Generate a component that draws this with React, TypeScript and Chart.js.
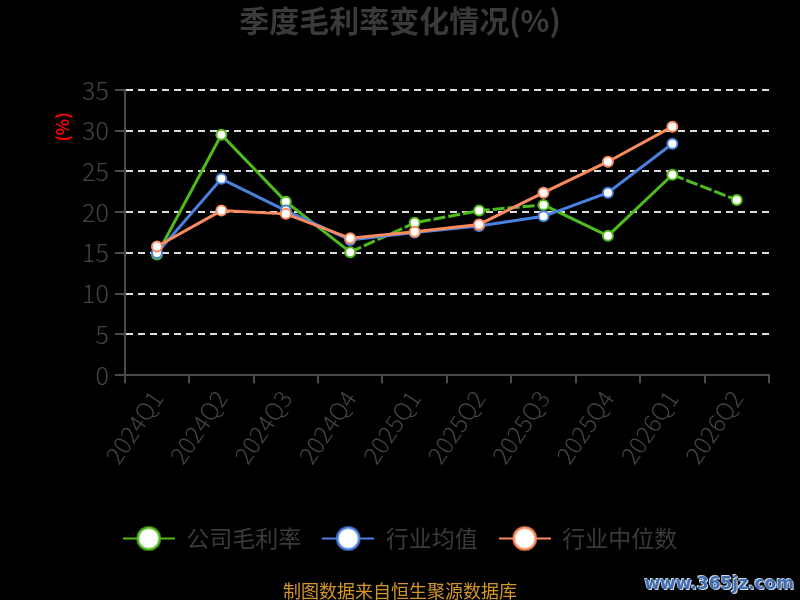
import { useEffect, useRef } from 'react';
import { Chart, registerables } from 'chart.js';

Chart.register(...registerables);

const quarters = ['2024Q1', '2024Q2', '2024Q3', '2024Q4', '2025Q1', '2025Q2', '2025Q3', '2025Q4', '2026Q1', '2026Q2'];
const companyMargin = [14.8, 29.5, 21.3, 15.1, 18.7, 20.2, 20.9, 17.1, 24.6, 21.5];
const industryAvg = [15.0, 24.1, 20.2, 16.6, 17.5, 18.3, 19.5, 22.4, 28.4, null];
const industryMedian = [15.8, 20.2, 19.8, 16.8, 17.6, 18.5, 22.4, 26.2, 30.5, null];
const seriesNames = ['公司毛利率', '行业均值', '行业中位数'];
// segments of the company line that show up dashed in the original
const dashedSegments = [3, 4, 5, 8];

const C = {
  green: '#4fbb1c',
  blue: '#4a80e0',
  orange: '#fa8b5e',
  axis: '#4a4a4a',
  text: '#444',
  grid: '#dcdcdc'
};

const FONT = "'Noto Sans CJK SC', 'Noto Sans', sans-serif";

function legendIcon(color: string) {
  const c = document.createElement('canvas');
  c.width = 52;
  c.height = 28;
  const g = c.getContext('2d')!;
  g.strokeStyle = color;
  g.lineWidth = 2;
  g.beginPath();
  g.moveTo(0, 14);
  g.lineTo(52, 14);
  g.stroke();
  g.beginPath();
  g.arc(26, 14, 11, 0, Math.PI * 2);
  g.fillStyle = '#fff';
  g.fill();
  g.lineWidth = 2.5;
  g.stroke();
  return c;
}

// "(%)" unit label, sits near the top of the y axis
const unitLabel = {
  id: 'unitLabel',
  afterDraw(chart: any) {
    const { ctx, chartArea } = chart;
    ctx.save();
    ctx.translate(chartArea.left - 62, chartArea.top + 37);
    ctx.rotate(-Math.PI / 2);
    ctx.fillStyle = '#ff0000';
    ctx.font = `bold 17px ${FONT}`;
    ctx.textAlign = 'center';
    ctx.textBaseline = 'middle';
    ctx.fillText('(%)', 0, 0);
    ctx.restore();
  }
};

export default function App() {
  const canvasRef = useRef<HTMLCanvasElement | null>(null);

  useEffect(() => {
    document.body.style.margin = '0';
    document.body.style.background = '#000';
    if (!canvasRef.current) return;

    const colors = [C.green, C.blue, C.orange];
    const icons = colors.map(legendIcon);

    const line = (label: string, data: (number | null)[], color: string, order: number) => ({
      label,
      data,
      borderColor: color,
      backgroundColor: color,
      borderWidth: 3,
      pointRadius: 5,
      pointBorderWidth: 2,
      pointBackgroundColor: '#fff',
      pointBorderColor: color,
      order
    });

    const green: any = line(seriesNames[0], companyMargin, C.green, 3);
    green.segment = {
      borderDash: (ctx: any) => (dashedSegments.includes(ctx.p0DataIndex) ? [12, 3] : undefined)
    };

    const chart = new Chart(canvasRef.current, {
      type: 'line',
      data: {
        labels: quarters,
        datasets: [
          green,
          line(seriesNames[1], industryAvg, C.blue, 2),
          line(seriesNames[2], industryMedian, C.orange, 1)
        ]
      },
      plugins: [unitLabel],
      options: {
        animation: false,
        responsive: true,
        maintainAspectRatio: false,
        layout: {
          padding: { left: 31, right: 31, top: 0, bottom: 40 }
        },
        plugins: {
          title: {
            display: true,
            text: '季度毛利率变化情况(%)',
            color: '#3a3a3a',
            font: { family: FONT, size: 30, weight: 'bold' },
            padding: { top: 3, bottom: 51 }
          },
          legend: {
            position: 'bottom',
            labels: {
              usePointStyle: true,
              pointStyleWidth: 52,
              boxHeight: 28,
              padding: 21,
              color: '#3a3a3a',
              font: { family: FONT, size: 23 },
              generateLabels: (ch: any) =>
                ch.data.datasets.map((ds: any, i: number) => ({
                  text: ds.label,
                  pointStyle: icons[i],
                  fillStyle: '#fff',
                  strokeStyle: colors[i],
                  lineWidth: 0,
                  fontColor: '#3a3a3a',
                  hidden: false,
                  datasetIndex: i
                }))
            }
          },
          tooltip: { enabled: false }
        },
        scales: {
          x: {
            offset: true,
            grid: {
              offset: true,
              drawOnChartArea: false,
              drawTicks: true,
              tickLength: 8,
              tickColor: C.axis,
              lineWidth: 2
            },
            border: { color: C.axis, width: 2 },
            ticks: {
              color: C.text,
              font: { family: FONT, size: 24, weight: '300' },
              minRotation: 56,
              maxRotation: 56,
              padding: 2,
              autoSkip: false
            },
            afterFit: (scale: any) => {
              scale.height += 35;
            }
          },
          y: {
            min: 0,
            max: 35,
            grid: {
              color: (ctx: any) => (ctx.tick && ctx.tick.value === 0 ? 'rgba(0,0,0,0)' : C.grid),
              lineWidth: 2,
              tickLength: 10,
              tickColor: C.axis,
              tickBorderDash: []
            },
            border: { color: C.axis, width: 2, dash: [7, 5] },
            ticks: {
              stepSize: 5,
              color: C.text,
              font: { family: FONT, size: 25, weight: '300' },
              padding: 6
            },
            afterFit: (scale: any) => {
              scale.width += 45;
            }
          }
        }
      }
    });

    return () => {
      chart.destroy();
    };
  }, []);

  return (
    <div style={{ position: 'relative', width: 800, height: 600, background: '#000', fontFamily: FONT }}>
      <canvas ref={canvasRef}></canvas>
      <div
        style={{
          position: 'absolute',
          left: 0,
          width: 800,
          top: 577,
          textAlign: 'center',
          color: '#d4962a',
          fontSize: 18,
          lineHeight: '26px'
        }}
      >
        制图数据来自恒生聚源数据库
      </div>
      <div
        style={{
          position: 'absolute',
          right: 6,
          top: 571,
          color: '#3e6fb3',
          fontFamily: "'DejaVu Sans', sans-serif",
          fontWeight: 'bold',
          fontSize: 17,
          lineHeight: '24px',
          textShadow: '0 0 1px #ddd, 1px 1px 0 #cfd8e6, -1px -1px 0 #cfd8e6'
        }}
      >
        www.365jz.com
      </div>
    </div>
  );
}
